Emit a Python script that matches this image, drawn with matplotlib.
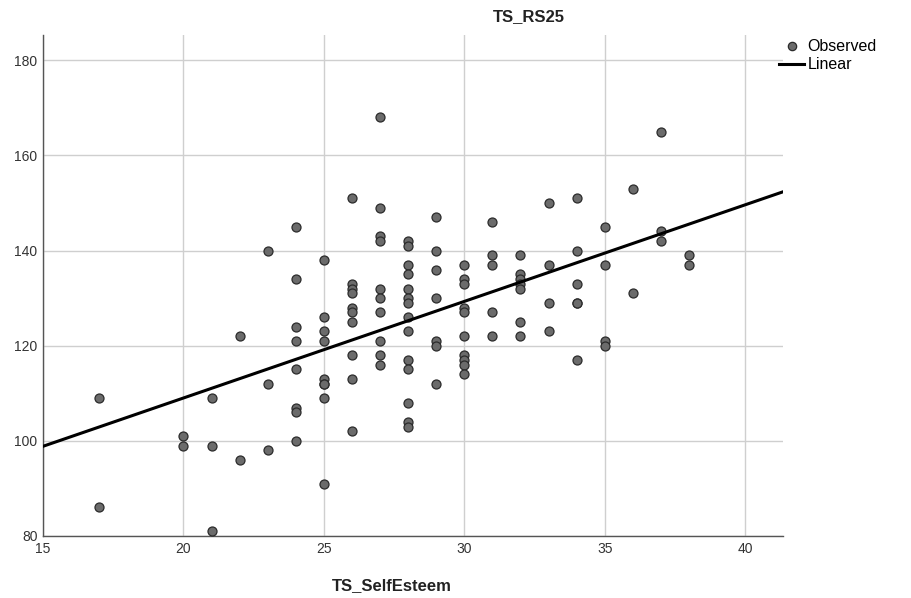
"""
plot.py — Scatter of TS_RS25 against TS_SelfEsteem with a linear fit line.
"""

import matplotlib
matplotlib.use("Agg")
import matplotlib.pyplot as plt
import numpy as np
from matplotlib.lines import Line2D

# ── Data ──────────────────────────────────────────────────────────────────────

self_esteem = (
    [17] * 2 + [20] * 2 + [21] * 3 + [22] * 2 + [23] * 3 + [24] * 8
    + [25] * 9 + [26] * 10 + [27] * 10 + [28] * 14 + [29] * 7
    + [30] * 10 + [31] * 5 + [32] * 7 + [33] * 4 + [34] * 6
    + [35] * 4 + [36] * 2 + [37] * 3 + [38] * 2
)
rs25 = [
    109, 86,
    101, 99,
    109, 99, 81,
    122, 96,
    140, 112, 98,
    145, 134, 124, 121, 115, 107, 106, 100,
    138, 126, 123, 121, 113, 112, 112, 109, 91,
    151, 133, 132, 131, 128, 127, 125, 118, 113, 102,
    168, 149, 143, 142, 132, 130, 127, 121, 118, 116,
    142, 141, 137, 135, 132, 130, 129, 126, 123, 117, 115, 108, 104, 103,
    147, 140, 136, 130, 121, 120, 112,
    137, 134, 133, 128, 127, 122, 118, 117, 116, 114,
    146, 139, 137, 127, 122,
    139, 135, 134, 133, 132, 125, 122,
    150, 137, 129, 123,
    151, 140, 133, 129, 129, 117,
    145, 137, 121, 120,
    153, 131,
    165, 144, 142,
    139, 137,
]

# linear fit as drawn in the reference
fit_intercept = 68.4
fit_slope = 2.03

x_ticks = [15, 20, 25, 30, 35, 40]
y_ticks = [80, 100, 120, 140, 160, 180]

# ── Plot ──────────────────────────────────────────────────────────────────────

plt.rcParams["font.family"] = ["Liberation Sans", "DejaVu Sans"]

fig = plt.figure(figsize=(9.11, 5.98), dpi=100)
ax = fig.add_axes([0.0472, 0.1037, 0.8123, 0.8378])

ax.scatter(self_esteem, rs25, s=42, color="#6b6b6b", edgecolor="#2b2b2b",
           linewidth=0.9, zorder=3)

x_min, x_max = 15, 41.35
line_x = np.array([x_min, x_max])
ax.plot(line_x, fit_intercept + fit_slope * line_x, color="black",
        linewidth=2.2, zorder=4)

ax.set_xlim(x_min, x_max)
ax.set_ylim(80, 185.3)
ax.set_xticks(x_ticks)
ax.set_yticks(y_ticks)
ax.tick_params(length=0, labelsize=10, colors="#333333", pad=4)
ax.grid(True, color="#cfcfcf", linewidth=1.0)
ax.set_axisbelow(True)

for side in ("top", "right"):
    ax.spines[side].set_visible(False)
for side in ("left", "bottom"):
    ax.spines[side].set_color("#555555")
    ax.spines[side].set_linewidth(1.0)

fig.text(0.58, 0.972, "TS_RS25", ha="center", va="center",
         fontsize=12, fontweight="bold", color="#222222")
fig.text(0.43, 0.02, "TS_SelfEsteem", ha="center", va="center",
         fontsize=12, fontweight="bold", color="#222222")

handles = [
    Line2D([], [], marker="o", linestyle="none", markersize=6,
           markerfacecolor="#6b6b6b", markeredgecolor="#2b2b2b",
           markeredgewidth=0.9),
    Line2D([], [], color="black", linewidth=2.2),
]
fig.legend(handles, ["Observed", "Linear"], loc="upper left",
           bbox_to_anchor=(0.848, 0.945), frameon=False, fontsize=11.5,
           handlelength=1.6, handletextpad=0.2, labelspacing=0.2,
           borderaxespad=0)

fig.savefig("out.png", dpi=100)
plt.close(fig)
